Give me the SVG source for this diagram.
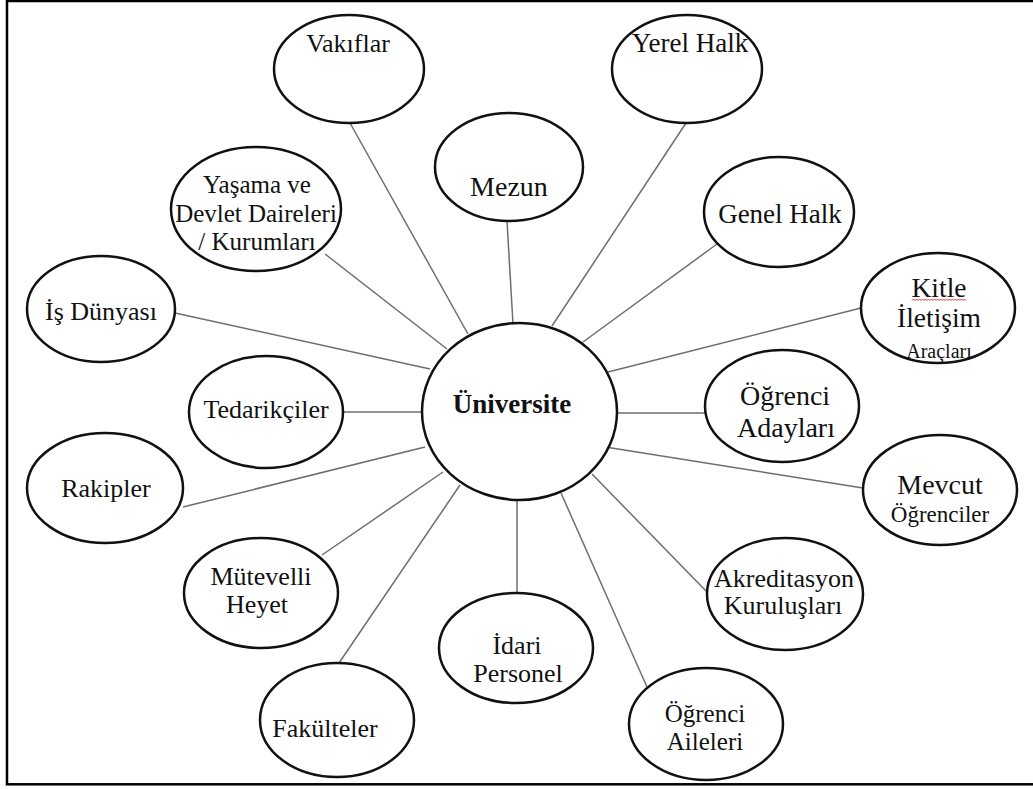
<svg xmlns="http://www.w3.org/2000/svg" width="1033" height="789" viewBox="0 0 1033 789">
  <style>
    .node { fill: #ffffff; stroke: #111111; stroke-width: 2.5; }
    .link { stroke: #6e6e6e; stroke-width: 1.5; fill: none; }
    text { font-family: "Liberation Serif", "Times New Roman", serif; fill: #111111; text-anchor: middle; }
    .t26 { font-size: 26px; }
    .t25 { font-size: 25px; }
    .t27 { font-size: 27px; }
    .t28 { font-size: 28px; }
  </style>
  <rect x="0" y="0" width="1033" height="789" fill="#ffffff"/>
  <!-- page frame -->
  <rect x="7" y="1" width="1040" height="783.3" fill="none" stroke="#000000" stroke-width="2.5"/>

  <!-- spokes from the centre to each stakeholder -->
  <g id="connectors">
    <line class="link" x1="350" y1="123" x2="468" y2="334"/>
    <line class="link" x1="507" y1="221" x2="513" y2="324"/>
    <line class="link" x1="686" y1="123" x2="552" y2="326"/>
    <line class="link" x1="717" y1="244" x2="583" y2="342"/>
    <line class="link" x1="861" y1="308" x2="608" y2="372"/>
    <line class="link" x1="705" y1="413" x2="617" y2="413"/>
    <line class="link" x1="863" y1="488" x2="599" y2="446"/>
    <line class="link" x1="707" y1="592" x2="592" y2="474"/>
    <line class="link" x1="647" y1="687" x2="561" y2="493"/>
    <line class="link" x1="517" y1="593" x2="517" y2="500"/>
    <line class="link" x1="339" y1="663" x2="460" y2="485"/>
    <line class="link" x1="322" y1="555" x2="443" y2="472"/>
    <line class="link" x1="183" y1="507" x2="425" y2="447"/>
    <line class="link" x1="343" y1="412" x2="421" y2="412"/>
    <line class="link" x1="175" y1="313" x2="430" y2="369"/>
    <line class="link" x1="325" y1="254" x2="447" y2="349"/>
  </g>

  <g id="universite">
    <ellipse class="node" cx="519.5" cy="411.5" rx="97.5" ry="88.5"/>
    <text x="512" y="413" font-size="27" font-weight="bold">Üniversite</text>
  </g>

  <g id="vakiflar">
    <ellipse class="node" cx="349" cy="69" rx="75" ry="54"/>
    <text class="t26" x="348" y="52">Vakıflar</text>
  </g>

  <g id="yerel-halk">
    <ellipse class="node" cx="687" cy="69" rx="75" ry="54"/>
    <text class="t27" x="690" y="52">Yerel Halk</text>
  </g>

  <g id="mezun">
    <ellipse class="node" cx="509" cy="167" rx="74" ry="54"/>
    <text class="t28" x="509" y="196">Mezun</text>
  </g>

  <g id="genel-halk">
    <ellipse class="node" cx="779" cy="212" rx="75" ry="55"/>
    <text class="t27" x="780" y="223">Genel Halk</text>
  </g>

  <g id="yasama-devlet">
    <ellipse class="node" cx="256" cy="209" rx="85" ry="62"/>
    <text class="t25" x="257" y="193">Yaşama ve</text>
    <text class="t25" x="256" y="222">Devlet Daireleri</text>
    <text class="t25" x="257" y="250">/ Kurumları</text>
  </g>

  <g id="kitle-iletisim">
    <ellipse class="node" cx="938" cy="308" rx="77" ry="55"/>
    <text x="939" y="297" font-size="27.5">Kitle</text>
    <!-- spell-check squiggle -->
    <path d="M912 300.5 l1.5 -1.5 l1.5 1.5 l1.5 -1.5 l1.5 1.5 l1.5 -1.5 l1.5 1.5 l1.5 -1.5 l1.5 1.5 l1.5 -1.5 l1.5 1.5 l1.5 -1.5 l1.5 1.5 l1.5 -1.5 l1.5 1.5 l1.5 -1.5 l1.5 1.5 l1.5 -1.5 l1.5 1.5 l1.5 -1.5 l1.5 1.5 l1.5 -1.5 l1.5 1.5 l1.5 -1.5 l1.5 1.5 l1.5 -1.5 l1.5 1.5 l1.5 -1.5 l1.5 1.5 l1.5 -1.5 l1.5 1.5 l1.5 -1.5 l1.5 1.5 l1.5 -1.5 l1.5 1.5 l1.5 -1.5 l1.5 1.5" fill="none" stroke="#e03030" stroke-width="1"/>
    <text x="939" y="327" font-size="27.5">İletişim</text>
    <text x="939" y="358" font-size="20">Araçları</text>
  </g>

  <g id="ogrenci-adaylari">
    <ellipse class="node" cx="782" cy="406" rx="77" ry="56"/>
    <text class="t28" x="785" y="405">Öğrenci</text>
    <text class="t28" x="786" y="437">Adayları</text>
  </g>

  <g id="mevcut-ogrenciler">
    <ellipse class="node" cx="940" cy="490" rx="77" ry="55"/>
    <text x="940" y="494" font-size="28">Mevcut</text>
    <text x="940" y="522" font-size="23">Öğrenciler</text>
  </g>

  <g id="akreditasyon">
    <ellipse class="node" cx="785" cy="594" rx="78" ry="56"/>
    <text class="t26" x="784" y="587">Akreditasyon</text>
    <text class="t26" x="783" y="614">Kuruluşları</text>
  </g>

  <g id="ogrenci-aileleri">
    <ellipse class="node" cx="706" cy="724" rx="77" ry="56"/>
    <text class="t25" x="705" y="722">Öğrenci</text>
    <text class="t25" x="705" y="750">Aileleri</text>
  </g>

  <g id="idari-personel">
    <ellipse class="node" cx="516" cy="648" rx="77" ry="55"/>
    <text class="t26" x="517" y="654">İdari</text>
    <text class="t26" x="518" y="682">Personel</text>
  </g>

  <g id="fakulteler">
    <ellipse class="node" cx="337" cy="720" rx="77" ry="57"/>
    <text class="t26" x="325" y="737">Fakülteler</text>
  </g>

  <g id="mutevelli-heyet">
    <ellipse class="node" cx="261" cy="593" rx="77" ry="55"/>
    <text class="t26" x="261" y="585">Mütevelli</text>
    <text class="t26" x="257" y="613">Heyet</text>
  </g>

  <g id="rakipler">
    <ellipse class="node" cx="105" cy="488" rx="78" ry="55"/>
    <text class="t26" x="106" y="497">Rakipler</text>
  </g>

  <g id="tedarikciler">
    <ellipse class="node" cx="266" cy="412" rx="77" ry="56"/>
    <text class="t26" x="266" y="418">Tedarikçiler</text>
  </g>

  <g id="is-dunyasi">
    <ellipse class="node" cx="101" cy="309" rx="74" ry="53"/>
    <text class="t26" x="101" y="320">İş Dünyası</text>
  </g>
</svg>
